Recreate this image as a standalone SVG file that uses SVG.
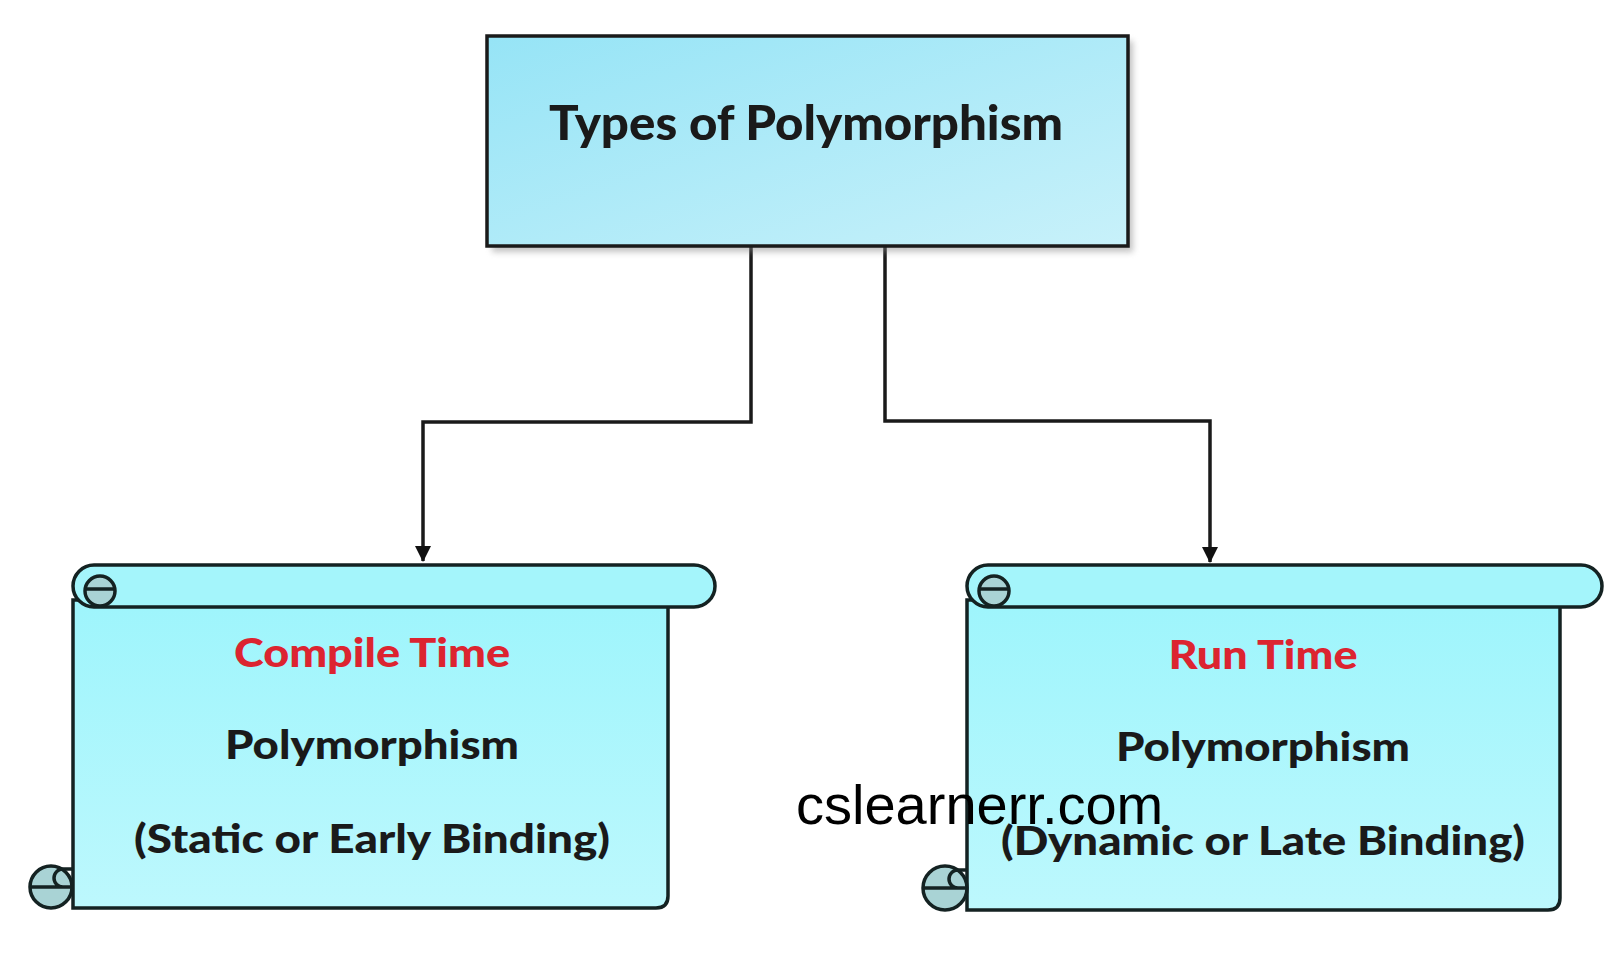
<svg xmlns="http://www.w3.org/2000/svg" width="1621" height="954" viewBox="0 0 1621 954">
<defs>
<linearGradient id="gTop" x1="0" y1="0" x2="1" y2="1">
<stop offset="0" stop-color="#96e4f6"/>
<stop offset="1" stop-color="#c8f1fa"/>
</linearGradient>
<linearGradient id="gBody" x1="0" y1="0" x2="0" y2="1">
<stop offset="0" stop-color="#9ef5fc"/>
<stop offset="1" stop-color="#bdf8fd"/>
</linearGradient>
<filter id="sh" x="-5%" y="-5%" width="115%" height="120%">
<feGaussianBlur stdDeviation="3"/>
</filter>
<marker id="arr" markerUnits="userSpaceOnUse" markerWidth="16" markerHeight="16" refX="15" refY="8" orient="auto">
<path d="M0,0 L16,8 L0,16 Z" fill="#111"/>
</marker>
<style>
.ln{stroke:#142222;stroke-width:3.5;fill:none}
.body{fill:url(#gBody);stroke:#142222;stroke-width:3.5}
.roll{fill:#a4f5fb;stroke:#142222;stroke-width:3.5}
.curl{fill:#a9d3d5;stroke:#142222;stroke-width:3.5}
.t{font-family:Lato,"Liberation Sans",sans-serif;font-weight:900;text-anchor:middle;fill:#1a1a1a}
.red{fill:#dc2430}
.conn{stroke:#1a1a1a;stroke-width:3.5;fill:none}
</style>
</defs>
<rect width="1621" height="954" fill="#fff"/>

<g id="connectors">
<path class="conn" d="M751,246 V422 H423 V561" marker-end="url(#arr)"/>
<path class="conn" d="M885,246 V421 H1210 V562" marker-end="url(#arr)"/>
</g>

<g id="root">
<rect x="492" y="41" width="641" height="211" fill="#888" opacity="0.5" filter="url(#sh)"/>
<rect x="487" y="36" width="641" height="210" fill="url(#gTop)" stroke="#1a1a1a" stroke-width="3.5"/>
<text class="t" x="806" y="140" font-size="48" textLength="514" lengthAdjust="spacingAndGlyphs">Types of Polymorphism</text>
</g>

<g id="compile">
<path class="body" d="M73,600 V908 H656 Q668,908 668,896 V600 Z"/>
<circle class="curl" cx="51" cy="887" r="21"/>
<path class="ln" d="M30,887 H73 M73,869 H63 A9,9 0 0 0 63,887"/>
<path class="roll" d="M94,565 H694 A21,21 0 0 1 694,607 H94 A21,21 0 0 1 94,565 Z"/>
<circle class="curl" cx="100" cy="591" r="15"/>
<path class="ln" d="M85,589 H115"/>
<text class="t red" x="372" y="667" font-size="40" textLength="276" lengthAdjust="spacingAndGlyphs">Compile Time</text>
<text class="t" x="372" y="759" font-size="40" textLength="294" lengthAdjust="spacingAndGlyphs">Polymorphism</text>
<text class="t" x="372" y="853" font-size="40" textLength="476" lengthAdjust="spacingAndGlyphs">(Static or Early Binding)</text>
</g>

<g id="runtime">
<path class="body" d="M967,600 V910 H1548 Q1560,910 1560,898 V600 Z"/>
<circle class="curl" cx="945" cy="888" r="22"/>
<path class="ln" d="M923,888 H967 M967,870 H958 A9,9 0 0 0 958,888"/>
<path class="roll" d="M988,565 H1581 A21,21 0 0 1 1581,607 H988 A21,21 0 0 1 988,565 Z"/>
<circle class="curl" cx="994" cy="591" r="15"/>
<path class="ln" d="M979,589 H1009"/>
<text class="t red" x="1263" y="669" font-size="40" textLength="189" lengthAdjust="spacingAndGlyphs">Run Time</text>
<text class="t" x="1263" y="761" font-size="40" textLength="294" lengthAdjust="spacingAndGlyphs">Polymorphism</text>
<text class="t" x="1263" y="855" font-size="40" textLength="524" lengthAdjust="spacingAndGlyphs">(Dynamic or Late Binding)</text>
</g>

<text x="796" y="824" font-family="Liberation Sans, Arial, sans-serif" font-size="56" fill="#000">cslearnerr.com</text>
</svg>
